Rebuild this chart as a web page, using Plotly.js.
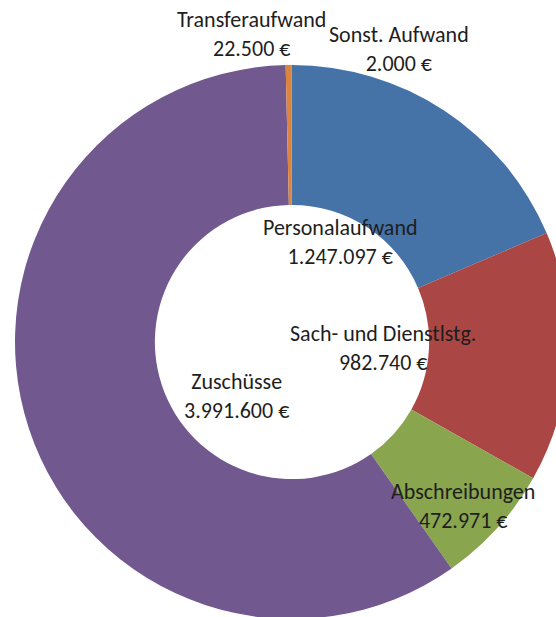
<!DOCTYPE html>
<html>
<head>
<meta charset="utf-8">
<script src="https://cdn.plot.ly/plotly-3.0.1.min.js"></script>
<style>
html,body{margin:0;padding:0;overflow:hidden;width:556px;height:617px;background:#fff;}
#chart{position:absolute;left:0;top:0;width:584px;height:684px;}
</style>
</head>
<body>
<div id="chart"></div>
<script>
// Data
var categories = ["Personalaufwand", "Sach- und Dienstlstg.", "Abschreibungen", "Zuschüsse", "Transferaufwand", "Sonst. Aufwand"];
var values = [1247097, 982740, 472971, 3991600, 22500, 2000];
var colors = ["#4572A7", "#AA4643", "#89A54E", "#71588F", "#DB843D", "#3D96AE"];

// Label placement (pixel centers in the 584x684 plot)
var labelPos = [[340, 242], [383, 348], [463, 506], [236, 396], [251, 34], [399, 49]];

var W = 584, H = 684;

function fmt(v) {
  return String(v).replace(/\B(?=(\d{3})+(?!\d))/g, ".") + " €";
}

var annotations = categories.map(function (c, i) {
  return {
    text: c + "<br>" + fmt(values[i]),
    x: labelPos[i][0] / W,
    y: 1 - labelPos[i][1] / H,
    xref: "paper", yref: "paper",
    xanchor: "center", yanchor: "middle",
    showarrow: false,
    align: "center",
    font: {family: "Carlito, Lato, sans-serif", size: 22, color: "#1e1e1e"}
  };
});

var trace = {
  type: "pie",
  labels: categories,
  values: values,
  hole: 0.495,
  sort: false,
  direction: "clockwise",
  rotation: 0,
  textinfo: "none",
  hoverinfo: "none",
  marker: {colors: colors, line: {width: 0}},
  domain: {x: [15 / W, 569 / W], y: [0, 1]}
};

var layout = {
  width: W, height: H,
  margin: {l: 0, r: 0, t: 0, b: 0, pad: 0},
  showlegend: false,
  paper_bgcolor: "#fff",
  annotations: annotations
};

Plotly.newPlot("chart", [trace], layout, {displayModeBar: false, staticPlot: true});
</script>
</body>
</html>
